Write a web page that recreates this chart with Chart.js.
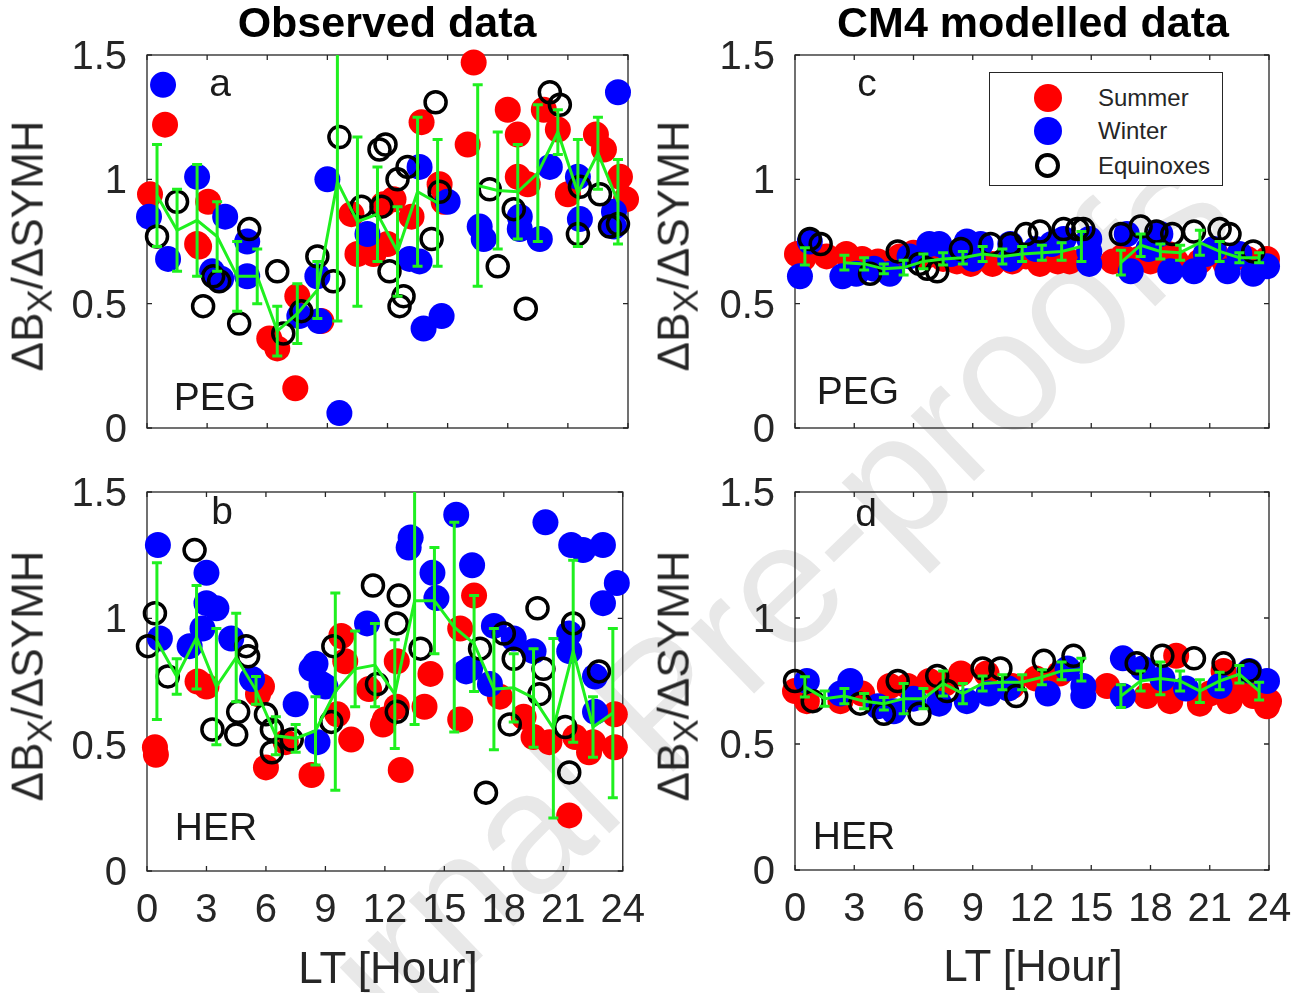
<!DOCTYPE html>
<html>
<head>
<meta charset="utf-8">
<script src="https://cdn.jsdelivr.net/npm/chart.js@4.4.1/dist/chart.umd.min.js"></script>
<style>
  body { margin: 0; background: #fff; }
  #page { position: relative; width: 1314px; height: 993px; overflow: hidden; font-family: "Liberation Sans", Arial, sans-serif; color: #262626; }
  canvas { position: absolute; }
  .t { position: absolute; transform: translate(-50%, -50%); white-space: nowrap; line-height: 1; }
  .title { font-weight: bold; font-size: 43px; color: #000; }
  .lab { font-size: 39px; color: #1a1a1a; }
  .xl { font-size: 44px; }
  .yl { font-size: 44px; transform: translate(-50%, -50%) rotate(-90deg); }
  .yl sub { font-size: 35px; vertical-align: -0.25em; }
  .wm { position: absolute; left: 690px; top: 672px; transform: translate(-50%, -50%) rotate(-44deg); font-size: 172px; color: #e8e8e8; white-space: nowrap; line-height: 1; }
  #legend { position: absolute; left: 989px; top: 72px; width: 232px; height: 112px; border: 1.5px solid #262626; background: #fff; font-size: 24px; color: #262626; }
  #legend div { position: absolute; left: 108px; transform: translateY(-50%); }
  #legend span { position: absolute; box-sizing: border-box; border-radius: 50%; }
</style>
</head>
<body>
<div id="page">
  <div class="wm">Journal Pre-proofs</div>

  <canvas id="pa"></canvas>
  <canvas id="pb"></canvas>
  <canvas id="pc"></canvas>
  <canvas id="pd"></canvas>

  <div class="t title" style="left:387px;top:22px">Observed data</div>
  <div class="t title" style="left:1033px;top:22px">CM4 modelled data</div>

  <div class="t lab" style="left:220px;top:82px">a</div>
  <div class="t lab" style="left:222px;top:510px">b</div>
  <div class="t lab" style="left:867px;top:82px">c</div>
  <div class="t lab" style="left:866px;top:512px">d</div>
  <div class="t lab" style="left:215px;top:396px">PEG</div>
  <div class="t lab" style="left:216px;top:826px">HER</div>
  <div class="t lab" style="left:858px;top:390px">PEG</div>
  <div class="t lab" style="left:854px;top:835px">HER</div>

  <div class="t yl" style="left:31px;top:246px">&Delta;B<sub>X</sub>/&Delta;SYMH</div>
  <div class="t yl" style="left:31px;top:676px">&Delta;B<sub>X</sub>/&Delta;SYMH</div>
  <div class="t yl" style="left:677px;top:246px">&Delta;B<sub>X</sub>/&Delta;SYMH</div>
  <div class="t yl" style="left:677px;top:676px">&Delta;B<sub>X</sub>/&Delta;SYMH</div>

  <div class="t xl" style="left:388px;top:968px">LT [Hour]</div>
  <div class="t xl" style="left:1033px;top:966px">LT [Hour]</div>

  <div id="legend">
    <span style="left:44px;top:11px;width:28px;height:28px;background:#f00"></span>
    <div style="top:25px">Summer</div>
    <span style="left:44px;top:44px;width:28px;height:28px;background:#00f"></span>
    <div style="top:58px">Winter</div>
    <span style="left:45px;top:80px;width:25px;height:25px;border:4px solid #000"></span>
    <div style="top:93px">Equinoxes</div>
  </div>
</div>

<script>
// axis ticks
const hourTicks = [0, 3, 6, 9, 12, 15, 18, 21, 24]
const ratioTicks = [0, 0.5, 1, 1.5]

// hourly bins used by the green mean curve
const bins = [0.5, 1.5, 2.5, 3.5, 4.5, 5.5, 6.5, 7.5, 8.5, 9.5, 10.5, 11.5,
              12.5, 13.5, 14.5, 15.5, 16.5, 17.5, 18.5, 19.5, 20.5, 21.5, 22.5, 23.5]

// ---- panel a : PEG observed
const pegObsSummer = [[0.15,0.94],[0.9,1.22],[2.5,0.74],[2.6,0.73],[3.05,0.91],[6.1,0.36],[6.5,0.32],[7.5,0.53],
  [8.7,0.43],[7.4,0.16],[10.2,0.86],[10.5,0.7],[11.3,0.7],[11.8,0.9],[12.0,0.74],[12.3,0.92],[13.2,0.85],[13.7,1.23],
  [14.6,0.98],[14.8,0.91],[16.0,1.14],[16.3,1.47],[18.0,1.28],[18.5,1.18],[18.5,1.01],[19.0,0.98],[19.8,1.28],
  [20.5,1.2],[21.0,0.94],[22.4,1.18],[22.8,1.12],[23.6,1.01],[23.9,0.92]]
const pegObsWinter = [[0.8,1.38],[0.1,0.85],[1.05,0.68],[2.5,1.01],[3.9,0.85],[3.25,0.63],[3.7,0.6],[5.0,0.75],
  [5.0,0.61],[7.6,0.45],[8.6,0.43],[8.5,0.61],[9.6,0.06],[9.0,1.0],[11.0,0.78],[13.1,0.68],[13.6,1.05],[13.6,0.67],
  [13.8,0.4],[14.7,0.45],[15.0,0.91],[16.6,0.81],[16.8,0.76],[18.6,0.85],[18.6,0.8],[19.6,0.76],[20.1,1.05],
  [21.5,1.01],[21.6,0.84],[23.3,0.87],[23.3,0.81],[23.5,1.35]]
const pegObsEquinox = [[0.5,0.77],[1.5,0.91],[2.8,0.49],[3.6,0.59],[3.3,0.61],[4.6,0.42],[5.1,0.8],[6.5,0.63],
  [6.8,0.38],[7.7,0.47],[8.5,0.69],[9.3,0.59],[9.6,1.17],[10.7,0.89],[11.6,1.12],[11.9,1.14],[12.5,1.0],[12.1,0.63],
  [12.6,0.49],[12.8,0.53],[13.0,1.05],[14.2,0.76],[14.4,1.31],[14.6,0.95],[17.1,0.96],[17.5,0.65],[18.3,0.88],
  [18.9,0.48],[20.1,1.35],[20.6,1.3],[21.5,0.78],[21.6,0.97],[22.6,0.94],[23.1,0.81],[23.5,0.82],[11.7,0.89]]
const pegObsMean = [0.935,0.795,0.835,0.77,0.61,0.61,0.39,0.46,0.555,0.99,0.83,0.86,
  0.71,0.95,0.905,null,0.975,0.955,0.95,1.025,1.19,0.945,1.105,0.91]
const pegObsErr = [0.205,0.165,0.225,0.14,0.14,0.11,0.1,0.12,0.115,0.56,0.34,0.19,
  0.18,0.3,0.255,null,0.405,0.235,0.19,0.275,0.09,0.215,0.145,0.17]

// ---- panel b : HER observed
const herObsSummer = [[0.4,0.49],[0.45,0.46],[2.55,0.75],[3.0,0.73],[5.6,0.7],[5.8,0.73],[6.0,0.41],[7.0,0.51],
  [8.3,0.38],[9.6,0.62],[9.8,0.93],[10.0,0.83],[10.3,0.52],[11.2,0.72],[11.9,0.58],[12.0,0.6],[12.6,0.83],
  [12.6,0.65],[12.8,0.4],[14.0,0.65],[14.3,0.78],[15.8,0.96],[15.8,0.6],[16.5,1.09],[17.8,0.69],[19.0,0.61],
  [19.5,0.53],[20.3,0.51],[21.3,0.22],[21.6,0.53],[22.3,0.47],[22.5,0.51],[23.6,0.62],[23.6,0.49]]
const herObsWinter = [[0.55,1.29],[0.65,0.92],[2.15,0.89],[2.8,0.96],[3.0,1.18],[3.0,1.06],[3.5,1.04],[4.25,0.92],
  [5.3,0.76],[7.5,0.66],[8.3,0.8],[8.5,0.82],[8.6,0.51],[8.8,0.74],[9.0,0.73],[11.1,0.98],[13.2,1.28],[13.3,1.32],
  [14.4,1.18],[14.6,1.08],[15.6,1.41],[16.1,0.79],[16.3,0.8],[16.4,1.21],[17.3,0.74],[17.5,0.97],[18.5,0.92],
  [19.5,0.87],[20.1,1.38],[21.3,0.94],[21.3,0.87],[21.4,1.29],[22.0,1.27],[22.6,0.77],[22.6,0.63],[23.0,1.29],
  [23.0,1.06],[23.7,1.14]]
const herObsEquinox = [[0.05,0.89],[0.4,1.02],[1.05,0.77],[2.4,1.27],[3.3,0.56],[4.5,0.54],[4.6,0.63],[5.0,0.89],
  [5.1,0.85],[6.0,0.62],[6.3,0.56],[6.3,0.47],[7.3,0.52],[9.3,0.59],[9.4,0.89],[11.4,1.13],[11.6,0.74],[12.6,0.98],
  [12.6,0.63],[12.7,1.09],[13.8,0.88],[16.8,0.88],[17.1,0.31],[18.0,0.94],[18.3,0.58],[18.5,0.84],[19.7,1.04],
  [19.8,0.7],[20.0,0.8],[21.1,0.57],[21.3,0.39],[21.5,0.98],[22.8,0.79]]
const herObsMean = [0.91,0.77,0.925,0.73,0.845,0.715,0.535,0.525,0.555,0.71,0.8,0.815,
  0.7,1.07,1.07,0.965,0.9,0.72,0.725,0.685,0.565,0.87,0.57,0.625]
const herObsErr = [0.31,0.07,0.205,0.23,0.175,0.055,0.075,0.055,0.135,0.39,0.15,0.165,
  0.215,0.49,0.21,0.415,0.19,0.24,0.135,0.195,0.355,0.36,0.12,0.335]

// ---- panel c : PEG modelled (CM4)
const pegModSummer = [[0.1,0.7],[0.4,0.68],[1.6,0.69],[2.6,0.7],[3.4,0.68],[4.2,0.67],[5.3,0.69],[6.0,0.705],
  [6.6,0.69],[7.5,0.68],[8.2,0.67],[8.9,0.66],[10.0,0.66],[11.0,0.67],[11.7,0.69],[12.4,0.66],[13.3,0.67],
  [13.9,0.67],[14.8,0.69],[16.1,0.67],[16.6,0.69],[17.4,0.68],[18.0,0.67],[18.9,0.7],[19.3,0.67],[20.5,0.67],
  [21.3,0.7],[21.8,0.66],[22.9,0.68],[23.9,0.68]]
const pegModWinter = [[0.25,0.61],[0.75,0.75],[2.4,0.61],[3.1,0.62],[4.0,0.64],[4.8,0.62],[5.8,0.69],[6.8,0.74],
  [7.3,0.74],[7.9,0.7],[8.7,0.75],[9.0,0.68],[9.4,0.74],[10.9,0.74],[10.9,0.68],[12.2,0.72],[13.0,0.74],[13.6,0.76],
  [14.9,0.71],[14.9,0.66],[14.9,0.76],[16.8,0.78],[17.0,0.63],[17.9,0.72],[18.5,0.78],[19.0,0.63],[20.2,0.63],
  [20.8,0.7],[21.2,0.72],[21.9,0.63],[22.5,0.7],[23.2,0.62],[23.9,0.65]]
const pegModEquinox = [[0.75,0.76],[1.3,0.74],[3.8,0.62],[5.2,0.71],[6.3,0.66],[6.7,0.64],[7.2,0.63],[8.4,0.72],
  [9.9,0.74],[10.9,0.74],[11.7,0.78],[12.4,0.79],[13.6,0.8],[14.3,0.8],[14.6,0.8],[16.5,0.78],[17.5,0.81],
  [18.3,0.79],[19.1,0.78],[20.2,0.79],[21.5,0.8],[22.0,0.78],[23.2,0.71]]
const pegModMean = [0.69,null,0.665,0.66,0.64,0.645,0.67,0.68,0.685,0.7,0.69,0.7,
  0.705,0.71,0.73,null,0.665,0.735,0.71,0.705,0.745,0.71,0.685,0.685]
const pegModErr = [0.035,null,0.03,0.025,0.02,0.03,0.03,0.025,0.025,0.03,0.03,0.03,
  0.03,0.035,0.06,null,0.05,0.045,0.03,0.03,0.05,0.04,0.02,0.02]

// ---- panel d : HER modelled (CM4)
const herModSummer = [[0.0,0.71],[0.6,0.67],[2.3,0.67],[3.4,0.7],[4.8,0.73],[5.7,0.73],[6.8,0.75],[7.6,0.74],
  [8.4,0.78],[9.7,0.78],[11.0,0.73],[12.2,0.76],[13.4,0.78],[15.8,0.73],[17.8,0.69],[18.6,0.72],[19.0,0.67],
  [19.3,0.85],[20.5,0.66],[21.0,0.7],[21.7,0.79],[22.0,0.67],[22.6,0.72],[23.2,0.69],[23.9,0.65],[24.0,0.67]]
const herModWinter = [[0.6,0.75],[2.3,0.7],[2.8,0.75],[4.2,0.65],[5.0,0.63],[6.0,0.68],[7.3,0.66],[8.7,0.67],
  [9.8,0.7],[10.8,0.72],[12.8,0.7],[13.8,0.8],[14.6,0.73],[14.6,0.69],[16.6,0.84],[16.6,0.69],[17.6,0.8],
  [18.6,0.76],[19.8,0.72],[21.5,0.73],[23.0,0.79],[23.9,0.75]]
const herModEquinox = [[0.0,0.75],[0.9,0.67],[3.3,0.66],[4.5,0.62],[5.2,0.75],[6.3,0.62],[7.2,0.77],[7.7,0.71],
  [9.5,0.8],[10.4,0.8],[11.2,0.69],[12.6,0.83],[14.1,0.85],[17.3,0.82],[18.6,0.85],[20.2,0.84],[21.7,0.82],[23.0,0.79]]
const herModMean = [0.727,0.68,0.69,0.67,0.66,0.68,0.68,0.74,0.7,0.74,0.745,0.745,
  0.765,0.79,0.795,null,0.69,0.75,0.76,0.75,0.71,0.75,0.777,0.71]
const herModErr = [0.04,0.03,0.03,0.03,0.025,0.06,0.04,0.05,0.04,0.03,0.03,0.03,
  0.03,0.035,0.045,null,0.045,0.04,0.065,0.04,0.045,0.035,0.035,0.035]

const RED = '#ff0000', BLUE = '#0000ff', GREEN = '#1ff01f', INK = '#262626'
const FONT = '"Liberation Sans", Arial, sans-serif'
const pts = (arr) => arr.map(([x, y]) => ({ x, y }))

// box + inward ticks on all four sides (matlab style)
const framePlugin = {
  id: 'frame',
  beforeDatasetsDraw(chart) {
    const { ctx, chartArea: a, scales: { x, y } } = chart
    ctx.save()
    ctx.strokeStyle = INK
    ctx.lineWidth = 1.3
    ctx.strokeRect(a.left, a.top, a.right - a.left, a.bottom - a.top)
    ctx.beginPath()
    hourTicks.forEach(v => {
      const px = x.getPixelForValue(v)
      ctx.moveTo(px, a.bottom); ctx.lineTo(px, a.bottom - 5)
      ctx.moveTo(px, a.top); ctx.lineTo(px, a.top + 5)
    })
    ratioTicks.forEach(v => {
      const py = y.getPixelForValue(v)
      ctx.moveTo(a.left, py); ctx.lineTo(a.left + 5, py)
      ctx.moveTo(a.right, py); ctx.lineTo(a.right - 5, py)
    })
    ctx.stroke()
    ctx.restore()
  }
}

// vertical error bars with caps for datasets carrying an `errors` array
const errorBarPlugin = {
  id: 'errbars',
  afterDatasetsDraw(chart) {
    const { ctx, chartArea: a, scales: { x, y } } = chart
    ctx.save()
    ctx.beginPath()
    ctx.rect(a.left, a.top, a.right - a.left, a.bottom - a.top)
    ctx.clip()
    chart.data.datasets.forEach(ds => {
      if (!ds.errors) return
      ctx.strokeStyle = ds.borderColor
      ctx.lineWidth = 3
      ctx.beginPath()
      ds.data.forEach((p, i) => {
        const e = ds.errors[i]
        if (p.y == null || e == null) return
        const px = x.getPixelForValue(p.x)
        const top = y.getPixelForValue(p.y + e)
        const bot = y.getPixelForValue(p.y - e)
        ctx.moveTo(px, top); ctx.lineTo(px, bot)
        ctx.moveTo(px - 5, top); ctx.lineTo(px + 5, top)
        ctx.moveTo(px - 5, bot); ctx.lineTo(px + 5, bot)
      })
      ctx.stroke()
    })
    ctx.restore()
  }
}

function makePanel(id, place, area, showX, summer, winter, equinox, mean, err) {
  const cv = document.getElementById(id)
  cv.width = place.w; cv.height = place.h
  cv.style.left = place.left + 'px'; cv.style.top = place.top + 'px'
  cv.style.width = place.w + 'px'; cv.style.height = place.h + 'px'
  const yW = 100, xH = showX ? 60 : 0
  const tickFont = { family: FONT, size: 40, lineHeight: 1 }
  return new Chart(cv, {
    type: 'scatter',
    data: {
      datasets: [
        { data: bins.map((h, i) => ({ x: h, y: mean[i] })), errors: err, type: 'line', showLine: true,
          borderColor: GREEN, borderWidth: 3, pointRadius: 0, spanGaps: false, order: 0 },
        { data: pts(equinox), backgroundColor: 'rgba(0,0,0,0)', borderColor: '#000', borderWidth: 3.5,
          pointRadius: 10.5, clip: false, order: 1 },
        { data: pts(winter), backgroundColor: BLUE, borderWidth: 0, pointRadius: 13, clip: false, order: 2 },
        { data: pts(summer), backgroundColor: RED, borderWidth: 0, pointRadius: 13, clip: false, order: 3 }
      ]
    },
    options: {
      responsive: false,
      animation: false,
      events: [],
      elements: { line: { borderWidth: 3, tension: 0 } },
      layout: {
        padding: { left: area.left - yW, top: area.top, right: place.w - area.right, bottom: place.h - area.bottom - xH }
      },
      plugins: { legend: { display: false }, tooltip: { enabled: false } },
      scales: {
        x: {
          type: 'linear', min: 0, max: 24,
          grid: { display: false }, border: { display: false },
          afterBuildTicks: s => { s.ticks = hourTicks.map(v => ({ value: v })) },
          ticks: { display: showX, padding: 12, color: INK, font: tickFont, maxRotation: 0, callback: v => String(v) },
          afterFit: s => { s.height = xH }
        },
        y: {
          type: 'linear', min: 0, max: 1.5,
          grid: { display: false }, border: { display: false },
          afterBuildTicks: s => { s.ticks = ratioTicks.map(v => ({ value: v })) },
          ticks: { padding: 12, labelOffset: 3, color: INK, font: tickFont, callback: v => String(v) },
          afterFit: s => { s.width = yW }
        }
      }
    },
    plugins: [framePlugin, errorBarPlugin]
  })
}

makePanel('pa', { left: 0, top: 0, w: 657, h: 460 }, { left: 147, top: 55, right: 628, bottom: 438 }, false,
  pegObsSummer, pegObsWinter, pegObsEquinox, pegObsMean, pegObsErr)
makePanel('pb', { left: 0, top: 460, w: 657, h: 533 }, { left: 147, top: 23, right: 628, bottom: 411 }, true,
  herObsSummer, herObsWinter, herObsEquinox, herObsMean, herObsErr)
makePanel('pc', { left: 657, top: 0, w: 657, h: 460 }, { left: 138, top: 55, right: 612, bottom: 438 }, false,
  pegModSummer, pegModWinter, pegModEquinox, pegModMean, pegModErr)
makePanel('pd', { left: 657, top: 460, w: 657, h: 533 }, { left: 138, top: 23, right: 612, bottom: 410 }, true,
  herModSummer, herModWinter, herModEquinox, herModMean, herModErr)
</script>
</body>
</html>
